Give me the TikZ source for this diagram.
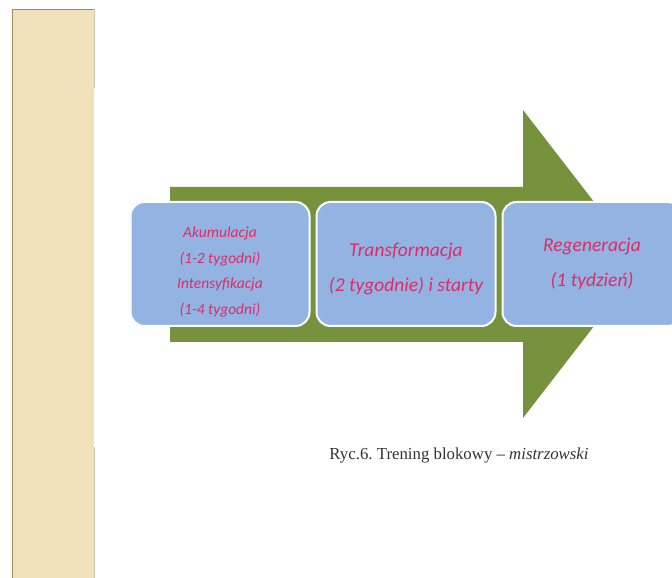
\documentclass[tikz,border=0pt]{standalone}
\usepackage{fontspec}
\setmainfont{Liberation Serif}
\newfontfamily\boxfont{Carlito}
\usetikzlibrary{positioning}
\frenchspacing

\definecolor{stripbeige}{HTML}{F0E1BA}
\definecolor{stripedge}{HTML}{A08A62}
\definecolor{arrowgreen}{HTML}{76923C}
\definecolor{boxblue}{HTML}{93B3E2}
\definecolor{textred}{HTML}{DF2C66}
\definecolor{captiongray}{HTML}{333333}

\tikzset{
  block/.style={draw=white, line width=2pt, fill=boxblue, rounded corners=14pt,
    minimum width=179pt, minimum height=124pt, align=center, text=textred,
    font=\boxfont\itshape\fontsize{19.5}{35}\selectfont},
  smalltext/.style={font=\boxfont\itshape\fontsize{15.5}{25.5}\selectfont}
}

\begin{document}
\begin{tikzpicture}[x=1pt, y=1pt, node distance=5pt]
			\useasboundingbox (0,0) rectangle (672,578);
			% side strip
			\fill[stripbeige] (12,0) rectangle (94,569);
			\draw[stripedge, line width=0.8pt] (12,0) -- (12,569) -- (94,569);
			\draw[stripedge!50, line width=0.8pt] (94,569) -- (94,490) (94,131) -- (94,0);
			% big arrow
			\fill[arrowgreen] (170,391) -- (523,391) -- (523,468) -- (642,314)
				-- (523,160) -- (523,236) -- (170,236) -- cycle;

			\node[block, smalltext] at (220,314) (akumulacja)
				{\raisebox{-7pt}[\height][\depth]{\begin{tabular}{@{}c@{}}Akumulacja\\(1-2 tygodni)\\Intensyfikacja\\(1-4 tygodni)\end{tabular}}};
			\node[block, right =of akumulacja] (transformacja)
				{\raisebox{-3pt}[\height][\depth]{\begin{tabular}{@{}c@{}}Transformacja\\(2 tygodnie) i starty\end{tabular}}};
			\node[block, right =of transformacja] (regeneracja)
				{Regeneracja\\(1 tydzień)};

			\node[text=captiongray, font=\fontsize{16.8}{20}\selectfont] at (459,123) (caption)
				{Ryc.6. Trening blokowy -- \textit{mistrzowski}};
		\end{tikzpicture}
\end{document}
